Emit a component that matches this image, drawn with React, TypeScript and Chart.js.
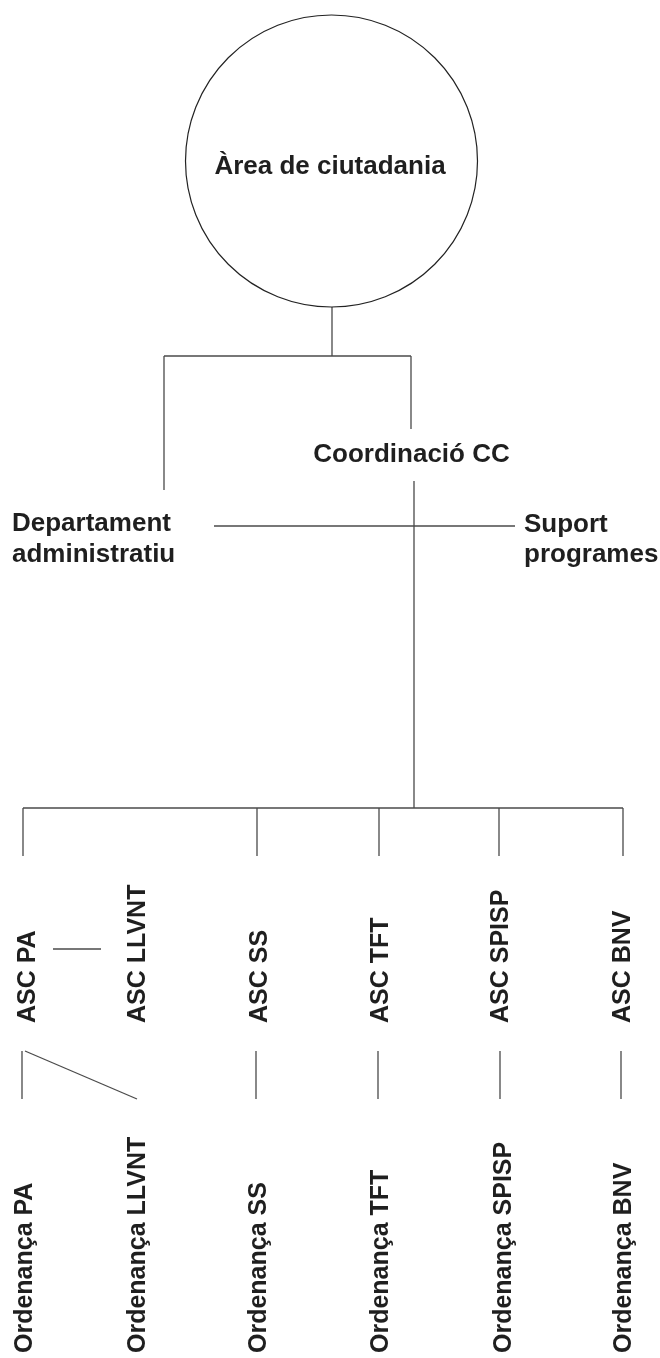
import React, { useEffect, useRef } from "react";
import { Chart, registerables } from "chart.js";

Chart.register(...registerables);

const W = 660;
const H = 1358;

// Root node (circle)
const rootLabel = "Àrea de ciutadania";
const rootCenter = { x: 331.5, y: 161 };
const rootRadius = 146;
const rootLabelPos = { x: 330, y: 174 };

// Horizontal text labels
const hLabels = ["Coordinació CC", "Departament", "administratiu", "Suport", "programes"];
const hLabelX = [411.5, 12, 12, 524, 524];
const hLabelY = [462, 531, 562, 532, 562];
const hLabelAlign = ["center", "left", "left", "left", "left"];

// Rotated (vertical) labels
const ascLabels = ["ASC PA", "ASC LLVNT", "ASC SS", "ASC TFT", "ASC SPISP", "ASC BNV"];
const ascBaseX = [35, 145, 267, 388, 508, 630];
const ascStartY = 1023;
const ordLabels = ["Ordenança PA", "Ordenança LLVNT", "Ordenança SS", "Ordenança TFT", "Ordenança SPISP", "Ordenança BNV"];
const ordBaseX = [32, 145, 266, 388, 511, 631];
const ordStartY = 1353;

// Connector segments: [x1, y1, x2, y2]
const segments: number[][] = [
  [332, 307, 332, 356],
  [164, 356, 411, 356],
  [164, 356, 164, 490],
  [411, 356, 411, 429],
  [414, 481, 414, 808],
  [214, 526, 515, 526],
  [23, 808, 623, 808],
  [23, 808, 23, 856],
  [257, 808, 257, 856],
  [379, 808, 379, 856],
  [499, 808, 499, 856],
  [623, 808, 623, 856],
  [53, 949, 101, 949],
  [22, 1051, 22, 1099],
  [25, 1051, 137, 1099],
  [256, 1051, 256, 1099],
  [378, 1051, 378, 1099],
  [500, 1051, 500, 1099],
  [621, 1051, 621, 1099],
];

const lineColor = "#4a4a4a";
const textColor = "#1f1f1f";
const fontFamily = '"Liberation Sans", Arial, sans-serif';

const labelPlugin = {
  id: "orgLabels",
  afterDatasetsDraw(chart: any) {
    const ctx = chart.ctx;
    const xs = chart.scales.x;
    const ys = chart.scales.y;
    ctx.save();
    ctx.fillStyle = textColor;
    ctx.textBaseline = "alphabetic";
    ctx.font = `bold 26px ${fontFamily}`;
    ctx.textAlign = "center";
    ctx.fillText(rootLabel, xs.getPixelForValue(rootLabelPos.x), ys.getPixelForValue(rootLabelPos.y));
    hLabels.forEach((t, i) => {
      ctx.textAlign = hLabelAlign[i];
      ctx.fillText(t, xs.getPixelForValue(hLabelX[i]), ys.getPixelForValue(hLabelY[i]));
    });
    ctx.font = `bold 25px ${fontFamily}`;
    ctx.textAlign = "left";
    const drawRot = (t: string, x: number, y: number) => {
      ctx.save();
      ctx.translate(xs.getPixelForValue(x), ys.getPixelForValue(y));
      ctx.rotate(-Math.PI / 2);
      ctx.fillText(t, 0, 0);
      ctx.restore();
    };
    ascLabels.forEach((t, i) => drawRot(t, ascBaseX[i], ascStartY));
    ordLabels.forEach((t, i) => drawRot(t, ordBaseX[i], ordStartY));
    ctx.restore();
  },
};

export default function App() {
  const ref = useRef<HTMLCanvasElement | null>(null);
  useEffect(() => {
    if (!ref.current) return;
    const datasets: any[] = segments.map((s) => ({
      type: "scatter",
      data: [
        { x: s[0], y: s[1] },
        { x: s[2], y: s[3] },
      ],
      showLine: true,
      borderColor: lineColor,
      borderWidth: 1.3,
      pointRadius: 0,
      pointHoverRadius: 0,
      fill: false,
    }));
    datasets.unshift({
      type: "scatter",
      data: [{ x: rootCenter.x, y: rootCenter.y }],
      pointRadius: (c: any) => {
        const s = c.chart.scales.x;
        return Math.abs(s.getPixelForValue(rootRadius) - s.getPixelForValue(0));
      },
      pointHoverRadius: 0,
      pointStyle: "circle",
      pointBackgroundColor: "#ffffff",
      pointBorderColor: "#222222",
      pointBorderWidth: 1.2,
    });
    const chart = new Chart(ref.current, {
      type: "scatter",
      data: { datasets },
      options: {
        responsive: false,
        maintainAspectRatio: false,
        animation: false,
        devicePixelRatio: 1,
        events: [],
        layout: { padding: 0 },
        plugins: { legend: { display: false }, tooltip: { enabled: false } },
        scales: {
          x: { type: "linear", min: 0, max: W, display: false },
          y: { type: "linear", min: 0, max: H, reverse: true, display: false },
        },
      },
      plugins: [labelPlugin],
    } as any);
    return () => chart.destroy();
  }, []);
  return (
    <div style={{ position: "absolute", left: 0, top: 0, width: W, height: H, background: "#fff" }}>
      <canvas ref={ref} width={W} height={H} style={{ display: "block" }} />
    </div>
  );
}
